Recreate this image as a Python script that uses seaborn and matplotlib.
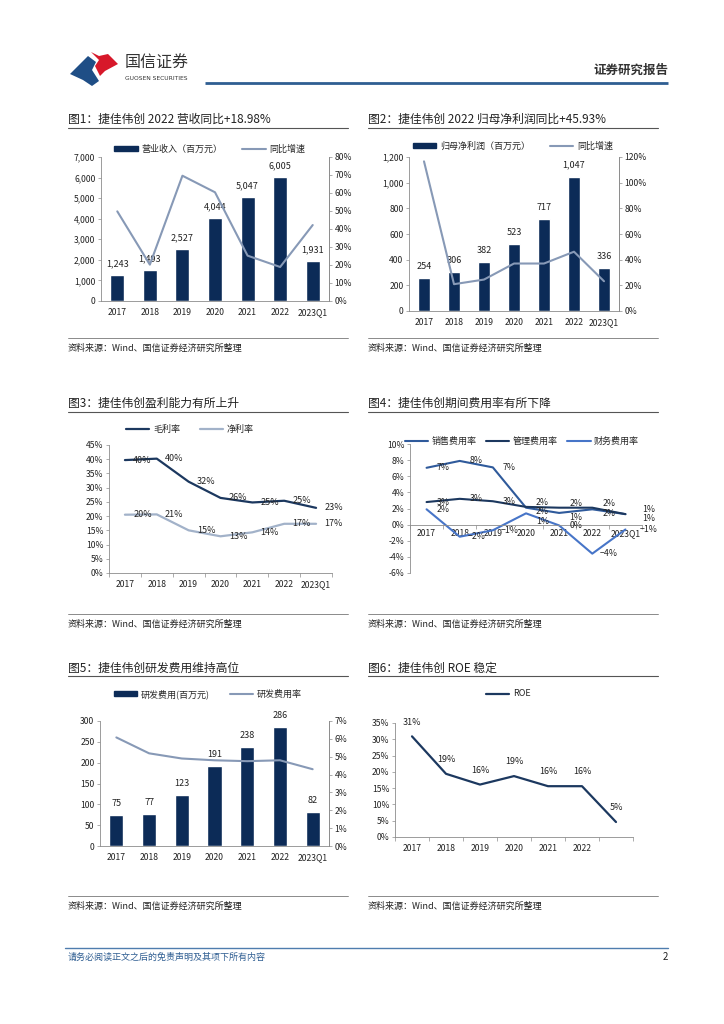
import numpy as np
import pandas as pd
import matplotlib
matplotlib.use("Agg")
import matplotlib.pyplot as plt
import seaborn as sns
from matplotlib.patches import Patch, Polygon
from matplotlib.lines import Line2D
from matplotlib.ticker import FuncFormatter, MultipleLocator

sns.set_theme(style="white")
plt.rcParams['font.family'] = ['Noto Sans CJK SC', 'DejaVu Sans']
plt.rcParams['axes.unicode_minus'] = True

# ------------------------------------------------------
# DATA (read from the report page)
years = ['2017', '2018', '2019', '2020', '2021', '2022', '2023Q1']

revenue = [1243, 1493, 2527, 4044, 5047, 6005, 1931]          # 营业收入（百万元）
revenue_yoy = [49.8, 20.2, 69.6, 60.4, 25.2, 18.9, 42.2]      # 同比增速 %

profit = [254, 306, 382, 523, 717, 1047, 336]                 # 归母净利润（百万元）
profit_yoy = [116.6, 20.9, 24.5, 37.0, 37.0, 46.2, 23.2]      # 同比增速 %

gross_margin = [39.7, 40.2, 32.1, 26.4, 24.8, 25.4, 22.9]     # 毛利率 %
net_margin = [20.5, 20.6, 15.0, 12.9, 14.3, 17.3, 17.3]       # 净利率 %

selling_rate = [7.05, 7.9, 7.1, 2.1, 1.45, 1.9, 1.3]          # 销售费用率 %
admin_rate = [2.8, 3.2, 2.9, 2.2, 2.1, 2.1, 1.3]              # 管理费用率 %
finance_rate = [1.9, -1.5, -0.7, 1.4, -0.1, -3.6, -0.6]       # 财务费用率 %

rd_cost = [75, 77, 123, 191, 238, 286, 82]                    # 研发费用（百万元）
rd_rate = [6.08, 5.19, 4.9, 4.8, 4.75, 4.8, 4.3]              # 研发费用率 %

roe = [30.9, 19.4, 16.1, 18.7, 15.6, 15.6, 4.6]               # ROE %
roe_ticklabels = ['2017', '2018', '2019', '2020', '2021', '2022', '']

# ------------------------------------------------------
NAVY = '#0C2B57'
GREYBLUE = '#8799B6'
DARKLINE = '#1C385F'
LIGHTLINE = '#A2B2C9'
MIDBLUE = '#2F5A9B'
BRIGHTBLUE = '#4775C8'
AXCOL = '#8C8C8C'
W, H = 724, 1024


def rect(x0, y0, x1, y1):
    return [x0 / W, 1 - y1 / H, (x1 - x0) / W, (y1 - y0) / H]


def pct(v, p):
    return f"{v:.0f}%"


def style_axis(ax, spines=('left', 'bottom')):
    for s in ['left', 'right', 'top', 'bottom']:
        ax.spines[s].set_visible(s in spines)
        ax.spines[s].set_color(AXCOL)
        ax.spines[s].set_linewidth(0.6)
    ax.tick_params(axis='both', which='both', labelsize=6.2, length=2, width=0.5,
                   color=AXCOL, pad=2, labelcolor='#222222')
    ax.set_xlabel('')
    ax.set_ylabel('')


def add_legend(ax, handles, labels, cx, cy, ncol, colsp=2.2):
    ax.legend(handles, labels, loc='center', bbox_to_anchor=(cx / W, 1 - cy / H),
              bbox_transform=fig.transFigure, ncol=ncol, frameon=False, fontsize=6.5,
              handlelength=2.6, handleheight=0.55, columnspacing=colsp, handletextpad=0.4)


def bar_line_chart(box, bars, line, ymax, ystep, rmax, rstep, bar_name, line_name, leg_xy, fmt):
    ax = fig.add_axes(rect(*box))
    df = pd.DataFrame({'year': years, 'value': bars})
    sns.barplot(data=df, x='year', y='value', color=NAVY, saturation=1, width=0.43, ax=ax)
    for i, v in enumerate(bars):
        ax.annotate(f"{v:,}", (i, v), xytext=(0, 5), textcoords='offset points',
                    ha='center', va='bottom', fontsize=6.5, color='#222222')
    ax.set_xlim(-0.5, len(years) - 0.5)
    ax.set_ylim(0, ymax)
    ax.yaxis.set_major_locator(MultipleLocator(ystep))
    ax.yaxis.set_major_formatter(FuncFormatter(fmt))
    style_axis(ax, ('left', 'bottom', 'right'))
    ax.tick_params(axis='x', length=0, pad=5)
    ax.tick_params(axis='y', left=True)

    ax2 = ax.twinx()
    sns.lineplot(x=np.arange(len(years)), y=line, ax=ax2, color=GREYBLUE, linewidth=1.5)
    ax2.set_ylim(0, rmax)
    ax2.yaxis.set_major_locator(MultipleLocator(rstep))
    ax2.yaxis.set_major_formatter(FuncFormatter(pct))
    style_axis(ax2, ('right',))
    ax2.tick_params(axis='y', right=True)
    ax2.grid(False)
    ax.grid(False)
    add_legend(ax2, [Patch(color=NAVY), Line2D([], [], color=GREYBLUE, lw=1.5)],
               [bar_name, line_name], leg_xy[0], leg_xy[1], 2)
    return ax, ax2


def category_axis(ax, labels):
    ax.set_xlim(-0.5, len(labels) - 0.5)
    ax.set_xticks(range(len(labels)))
    ax.set_xticklabels(labels)
    ax.set_xticks(np.arange(-0.5, len(labels)), minor=True)
    ax.tick_params(axis='x', which='major', length=0, pad=5)
    ax.tick_params(axis='x', which='minor', bottom=True, length=3, direction='out')
    ax.tick_params(axis='y', left=True)
    ax.grid(False)


fig = plt.figure(figsize=(W / 100, H / 100), dpi=100)

# ------------------------------------------------------
# PAGE DECORATION (pixel coordinates)
page = fig.add_axes([0, 0, 1, 1])
page.set_xlim(0, W)
page.set_ylim(H, 0)
page.axis('off')

page.add_patch(Polygon([(70, 74), (88, 56), (96, 62), (92, 70), (99, 81), (92, 86), (83, 80)],
                       closed=True, color='#1F4E86', lw=0))
page.add_patch(Polygon([(91, 52), (99, 56), (108, 54), (118, 64), (105, 71), (100, 76), (95, 66), (99, 60)],
                       closed=True, color='#D7182A', lw=0))
page.text(125, 63, '国信证券', fontsize=11.5, color='#333333', va='center', ha='left')
page.text(125, 78, 'GUOSEN SECURITIES', fontsize=4.3, color='#333333', va='center', ha='left',
          family=['DejaVu Sans'])
page.plot([205, 668], [83, 83], color='#2F5E92', lw=2, solid_capstyle='butt')
page.text(668, 70, '证券研究报告', fontsize=9, color='#333333', va='center', ha='right', fontweight='bold')

titles = [
    (68, 119, '图1：捷佳伟创 2022 营收同比+18.98%'),
    (368, 119, '图2：捷佳伟创 2022 归母净利润同比+45.93%'),
    (68, 403, '图3：捷佳伟创盈利能力有所上升'),
    (368, 403, '图4：捷佳伟创期间费用率有所下降'),
    (68, 668, '图5：捷佳伟创研发费用维持高位'),
    (368, 668, '图6：捷佳伟创 ROE 稳定'),
]
for x, y, t in titles:
    page.text(x, y, t, fontsize=8.5, color='#222222', va='center', ha='left')
for y in (128, 412, 676):
    page.plot([68, 348], [y, y], color='#555555', lw=0.8)
    page.plot([368, 658], [y, y], color='#555555', lw=0.8)

for y in (338, 614, 896):
    page.plot([68, 348], [y, y], color='#777777', lw=0.6)
    page.plot([368, 658], [y, y], color='#777777', lw=0.6)
    page.text(68, y + 10, '资料来源：Wind、国信证券经济研究所整理', fontsize=6.5, color='#222222', va='center')
    page.text(368, y + 10, '资料来源：Wind、国信证券经济研究所整理', fontsize=6.5, color='#222222', va='center')

page.plot([65, 668], [948, 948], color='#4F7DAE', lw=1)
page.text(68, 957, '请务必阅读正文之后的免责声明及其项下所有内容', fontsize=6.5, color='#2F5E92',
          va='center', style='italic')
page.text(668, 957, '2', fontsize=7, color='#222222', va='center', ha='right')

# ------------------------------------------------------
# CHART 1 & 2 & 5 : bars + growth line
bar_line_chart((101, 157, 329, 301), revenue, revenue_yoy, 7000, 1000, 80, 10,
               '营业收入（百万元）', '同比增速', (210, 149), lambda v, p: f"{v:,.0f}")
bar_line_chart((409, 157, 619, 311), profit, profit_yoy, 1200, 200, 120, 20,
               '归母净利润（百万元）', '同比增速', (513, 146), lambda v, p: f"{v:,.0f}")
bar_line_chart((100, 721, 329, 846), rd_cost, rd_rate, 300, 50, 7, 1,
               '研发费用(百万元)', '研发费用率', (208, 694), lambda v, p: f"{v:.0f}")

# ------------------------------------------------------
# CHART 3 : margins
ax3 = fig.add_axes(rect(109, 445, 332, 573))
x = np.arange(len(years))
sns.lineplot(x=x, y=gross_margin, ax=ax3, color=DARKLINE, linewidth=1.6)
sns.lineplot(x=x, y=net_margin, ax=ax3, color=LIGHTLINE, linewidth=1.6)
for i in range(len(years)):
    ax3.text(i + 0.55, gross_margin[i], f"{round(gross_margin[i])}%", fontsize=6.5,
             ha='center', va='center', color='#222222')
    ax3.text(i + 0.55, net_margin[i], f"{round(net_margin[i])}%", fontsize=6.5,
             ha='center', va='center', color='#222222')
ax3.set_ylim(0, 45)
ax3.yaxis.set_major_locator(MultipleLocator(5))
ax3.yaxis.set_major_formatter(FuncFormatter(pct))
style_axis(ax3)
category_axis(ax3, years)
add_legend(ax3, [Line2D([], [], color=DARKLINE, lw=1.6), Line2D([], [], color=LIGHTLINE, lw=1.6)],
           ['毛利率', '净利率'], 190, 429, 2)

# ------------------------------------------------------
# CHART 4 : expense ratios
ax4 = fig.add_axes(rect(410, 444, 642, 573))
sns.lineplot(x=x, y=selling_rate, ax=ax4, color=MIDBLUE, linewidth=1.5)
sns.lineplot(x=x, y=admin_rate, ax=ax4, color=DARKLINE, linewidth=1.5)
sns.lineplot(x=x, y=finance_rate, ax=ax4, color=BRIGHTBLUE, linewidth=1.5)


def lab4(i, v, dy):
    dx = 0.7 if i == len(years) - 1 else 0.5
    ax4.annotate(f"{round(v)}%".replace('-', '−'), (i + dx, v), xytext=(0, dy),
                 textcoords='offset points', ha='center', va='center', fontsize=6.3,
                 color='#222222', annotation_clip=False)


for i in range(len(years)):
    close = abs(selling_rate[i] - admin_rate[i]) < 1
    lab4(i, admin_rate[i], 3 if close else 0)
    lab4(i, selling_rate[i], -3 if close else 0)
    lab4(i, finance_rate[i], -6 if abs(finance_rate[i] - selling_rate[i]) < 1 else 0)
ax4.set_ylim(-6, 10)
ax4.yaxis.set_major_locator(MultipleLocator(2))
ax4.yaxis.set_major_formatter(FuncFormatter(pct))
style_axis(ax4)
category_axis(ax4, years)
ax4.spines['bottom'].set_position(('data', 0))
ax4.tick_params(axis='x', which='major', pad=3)
add_legend(ax4, [Line2D([], [], color=MIDBLUE, lw=1.5), Line2D([], [], color=DARKLINE, lw=1.5),
                 Line2D([], [], color=BRIGHTBLUE, lw=1.5)],
           ['销售费用率', '管理费用率', '财务费用率'], 522, 441, 3, colsp=1.0)

# ------------------------------------------------------
# CHART 6 : ROE
ax6 = fig.add_axes(rect(395, 723, 633, 837))
sns.lineplot(x=x, y=roe, ax=ax6, color=DARKLINE, linewidth=1.6)
for i, v in enumerate(roe):
    ax6.annotate(f"{round(v)}%", (i, v), xytext=(0, 7), textcoords='offset points',
                 ha='center', va='bottom', fontsize=6.5, color='#222222')
ax6.set_ylim(0, 35)
ax6.yaxis.set_major_locator(MultipleLocator(5))
ax6.yaxis.set_major_formatter(FuncFormatter(pct))
style_axis(ax6)
category_axis(ax6, roe_ticklabels)
add_legend(ax6, [Line2D([], [], color=DARKLINE, lw=1.6)], ['ROE'], 508, 694, 1)

fig.savefig('out.png', dpi=100)
